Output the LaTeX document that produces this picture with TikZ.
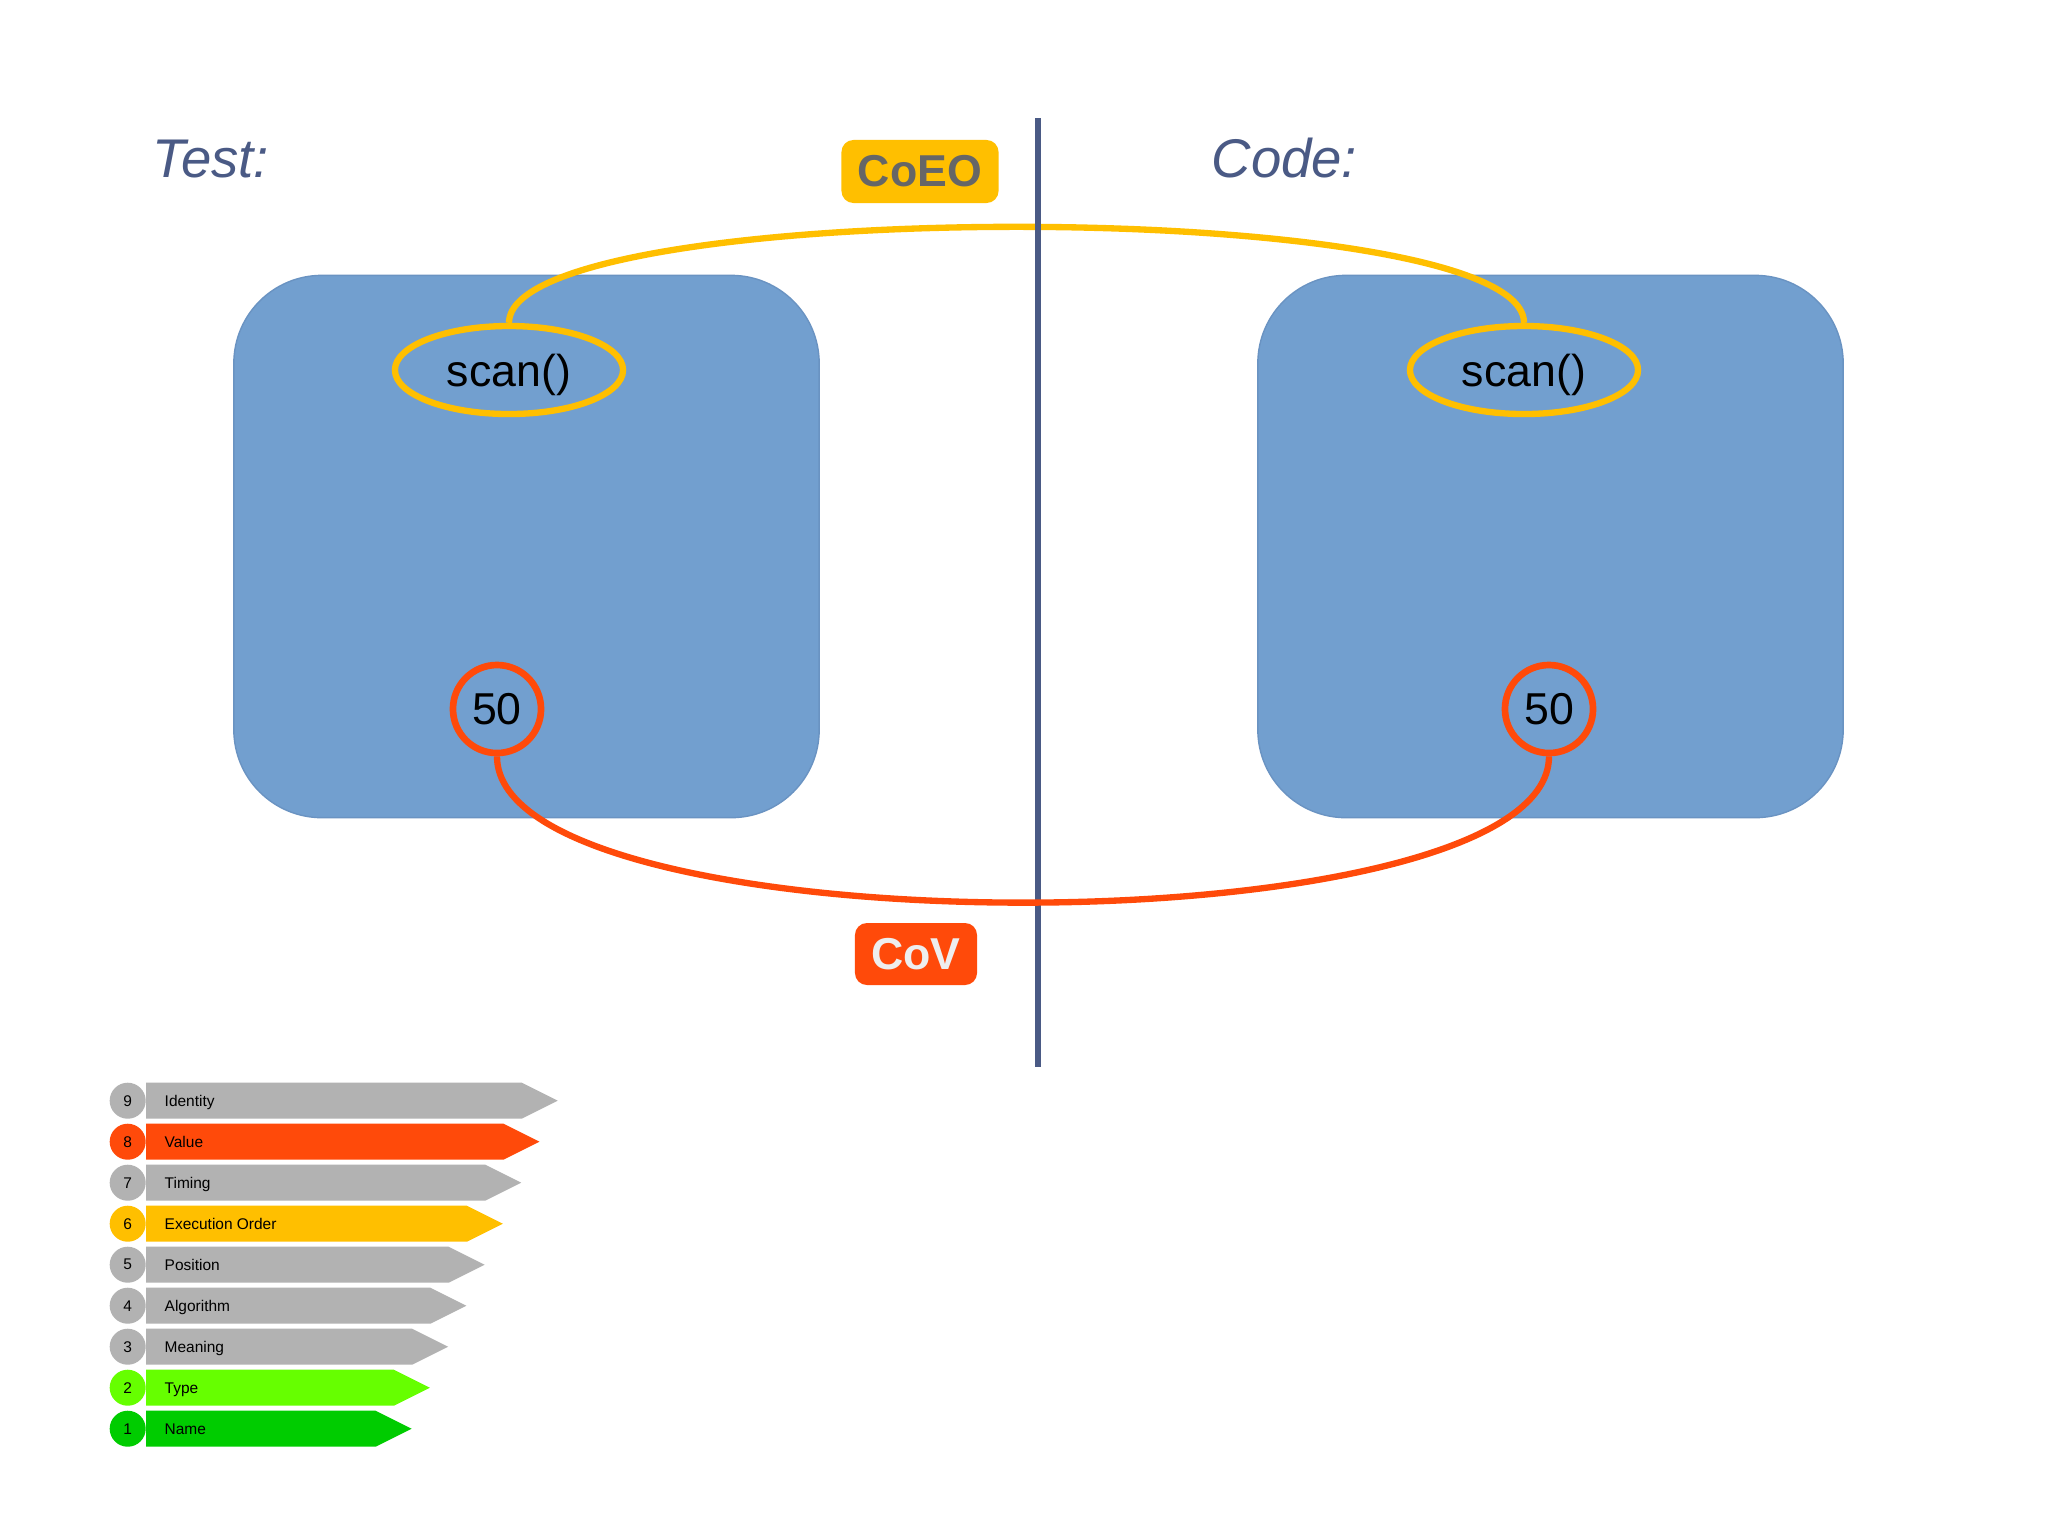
\documentclass[tikz,border=0pt]{standalone}
\usepackage{fontspec}
\setmainfont{Liberation Sans}
\usetikzlibrary{shapes.geometric}
\definecolor{boxblue}{HTML}{729FCF}
\definecolor{boxedge}{HTML}{6A93C2}
\definecolor{slate}{HTML}{4A5A85}
\definecolor{coeo}{HTML}{FFBF00}
\definecolor{cov}{HTML}{FF4A0A}
\definecolor{leggray}{HTML}{B2B2B2}
\definecolor{legtype}{HTML}{66FF00}
\definecolor{legname}{HTML}{00CC00}
\definecolor{coeotext}{HTML}{666666}
\definecolor{covtext}{HTML}{EEEEEE}
\tikzset{
  panel/.style={draw=boxedge, line width=0.4pt, fill=boxblue, rounded corners=0.88cm,
    minimum width=5.85cm, minimum height=5.42cm, inner sep=0},
  callout/.style={ellipse, draw=coeo, line width=1.8pt, minimum width=2.28cm,
    minimum height=0.88cm, inner sep=0, text depth=0pt, font=\fontsize{12.7}{14}\selectfont},
  valring/.style={circle, draw=cov, line width=1.9pt, minimum size=0.88cm,
    inner sep=0, font=\fontsize{12.7}{14}\selectfont},
  heading/.style={anchor=base west, inner sep=0, text=slate,
    font=\fontsize{15.5}{18}\selectfont\itshape},
  tag/.style={rounded corners=0.12cm, inner sep=0, font=\fontsize{12.7}{14}\selectfont\bfseries},
  legdot/.style={circle, inner sep=0, minimum size=0.36cm, font=\fontsize{4.4}{5}\selectfont},
  legtext/.style={anchor=base west, inner sep=0, font=\fontsize{4.4}{5}\selectfont}
}
\begin{document}
\begin{tikzpicture}[x=0.01cm, y=-0.01cm]
\useasboundingbox[fill=white] (0,0) rectangle (2048,1535);

% panels
\node[panel] (pL) at (526.5,546.5) {};
\node[panel] (pR) at (1550.5,546.5) {};

% headings
\node[heading] (tTest) at (152,177) {Test:};
\node[heading] (tCode) at (1211,177) {Code:};

% callouts
\node[callout] (sL) at (509,370) {scan()};
\node[callout] (sR) at (1524,370) {scan()};
\node[valring] (vL) at (497,709) {50};
\node[valring] (vR) at (1549,709) {50};

% yellow connector
\draw[coeo, line width=1.8pt] (sL.north) .. controls +(0,-128) and +(0,-128) .. (sR.north);

% divider
\coordinate (dTop) at (1038,118);
\coordinate (dBot) at (1038,1067);
\draw[slate, line width=1.9pt] (dTop) -- (dBot);

% red connector
\draw[cov, line width=1.8pt] (vL.south) .. controls +(0,195) and +(0,195) .. (vR.south);

% tags
\node[tag, fill=coeo, text=coeotext, minimum width=1.57cm, minimum height=0.63cm] (coeo) at (920,171.5) {CoEO};
\node[tag, fill=cov, text=covtext, minimum width=1.22cm, minimum height=0.62cm] (cov) at (916,954) {CoV};

% legend
\foreach \n/\lab/\col [count=\k from 0] in {9/Identity/leggray, 8/Value/cov, 7/Timing/leggray,
  6/Execution Order/coeo, 5/Position/leggray, 4/Algorithm/leggray, 3/Meaning/leggray,
  2/Type/legtype, 1/Name/legname}{
  \pgfmathsetmacro{\yy}{1100.7+41*\k}
  \pgfmathsetmacro{\xe}{521.7-18.25*\k}
  \fill[\col] (146,\yy-18) -- (\xe,\yy-18) -- (\xe+36,\yy) -- (\xe,\yy+18) -- (146,\yy+18) -- cycle;
  \node[legdot, fill=\col] (ld\n) at (127.7,\yy) {\n};
  \node[legtext] (lt\n) at (164,\yy+6) {\lab};
}
\end{tikzpicture}
\end{document}
